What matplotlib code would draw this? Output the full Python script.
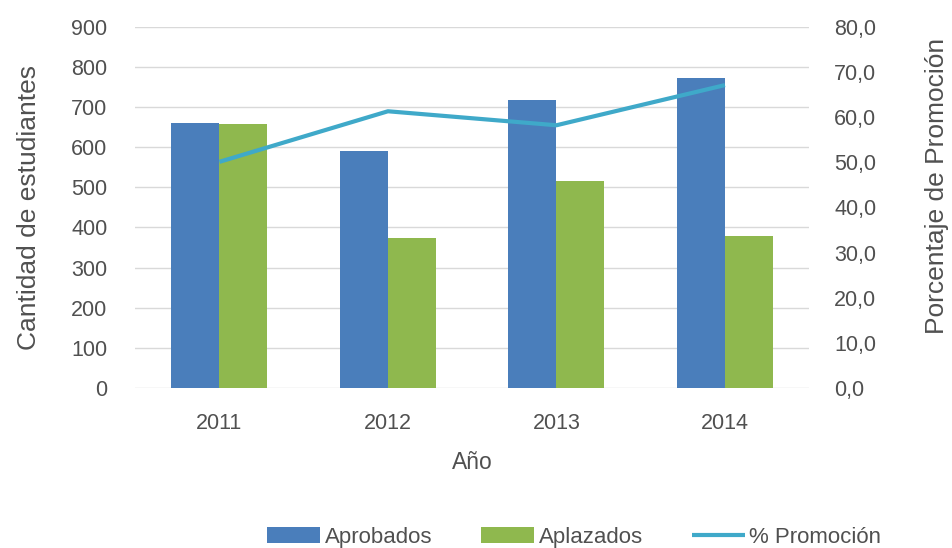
import matplotlib
matplotlib.use("Agg")
import matplotlib.pyplot as plt
from matplotlib.ticker import FuncFormatter

plt.rcParams['font.family'] = ['Liberation Sans', 'DejaVu Sans']

# datos
anios = ['2011', '2012', '2013', '2014']
aprobados = [660, 590, 718, 772]
aplazados = [657, 373, 516, 378]
promocion = [50.1, 61.3, 58.2, 67.1]

azul = '#4a7ebb'
verde = '#8fb84e'
cian = '#3fa9c9'
gris = '#505050'

fig = plt.figure(figsize=(9.52, 5.48), dpi=100)
ax = fig.add_axes([0.142, 0.292, 0.708, 0.659])
ax2 = ax.twinx()

x = range(len(anios))
w = 0.285
ax.bar([i - w / 2 for i in x], aprobados, width=w, color=azul, label='Aprobados', zorder=2)
ax.bar([i + w / 2 for i in x], aplazados, width=w, color=verde, label='Aplazados', zorder=2)
ax2.plot(list(x), promocion, color=cian, lw=3, label='% Promoción', solid_capstyle='butt')

ax.set_xlim(-0.5, 3.5)
ax.set_ylim(0, 900)
ax.set_yticks(range(0, 901, 100))
ax2.set_ylim(0, 80)
ax2.set_yticks(range(0, 81, 10))
ax2.yaxis.set_major_formatter(FuncFormatter(lambda v, p: f'{v:.1f}'.replace('.', ',')))
ax.set_xticks(list(x))
ax.set_xticklabels(anios)

ax.grid(axis='y', color='#d9d9d9', lw=1, zorder=0)
ax.set_axisbelow(True)
for a in (ax, ax2):
    for s in a.spines.values():
        s.set_visible(False)
    a.tick_params(length=0, labelsize=15.5, colors=gris)
ax.tick_params(axis='y', pad=20)
ax.tick_params(axis='x', pad=18)
ax2.tick_params(pad=18)

ax.set_xlabel('Año', fontsize=16.5, color=gris, labelpad=12)
ax.set_ylabel('Cantidad de estudiantes', fontsize=19, color=gris, labelpad=22)
ax2.set_ylabel('Porcentaje de Promoción', fontsize=19, color=gris)
ax2.yaxis.set_label_coords(1.172, 0.56)

h1, l1 = ax.get_legend_handles_labels()
h2, l2 = ax2.get_legend_handles_labels()
fig.legend(h1 + h2, l1 + l2, loc='center', bbox_to_anchor=(0.603, 0.02), ncol=3,
           frameon=False, fontsize=16, labelcolor=gris, handlelength=2.4,
           handletextpad=0.2, columnspacing=2.2)

fig.savefig('out.png', dpi=100)
